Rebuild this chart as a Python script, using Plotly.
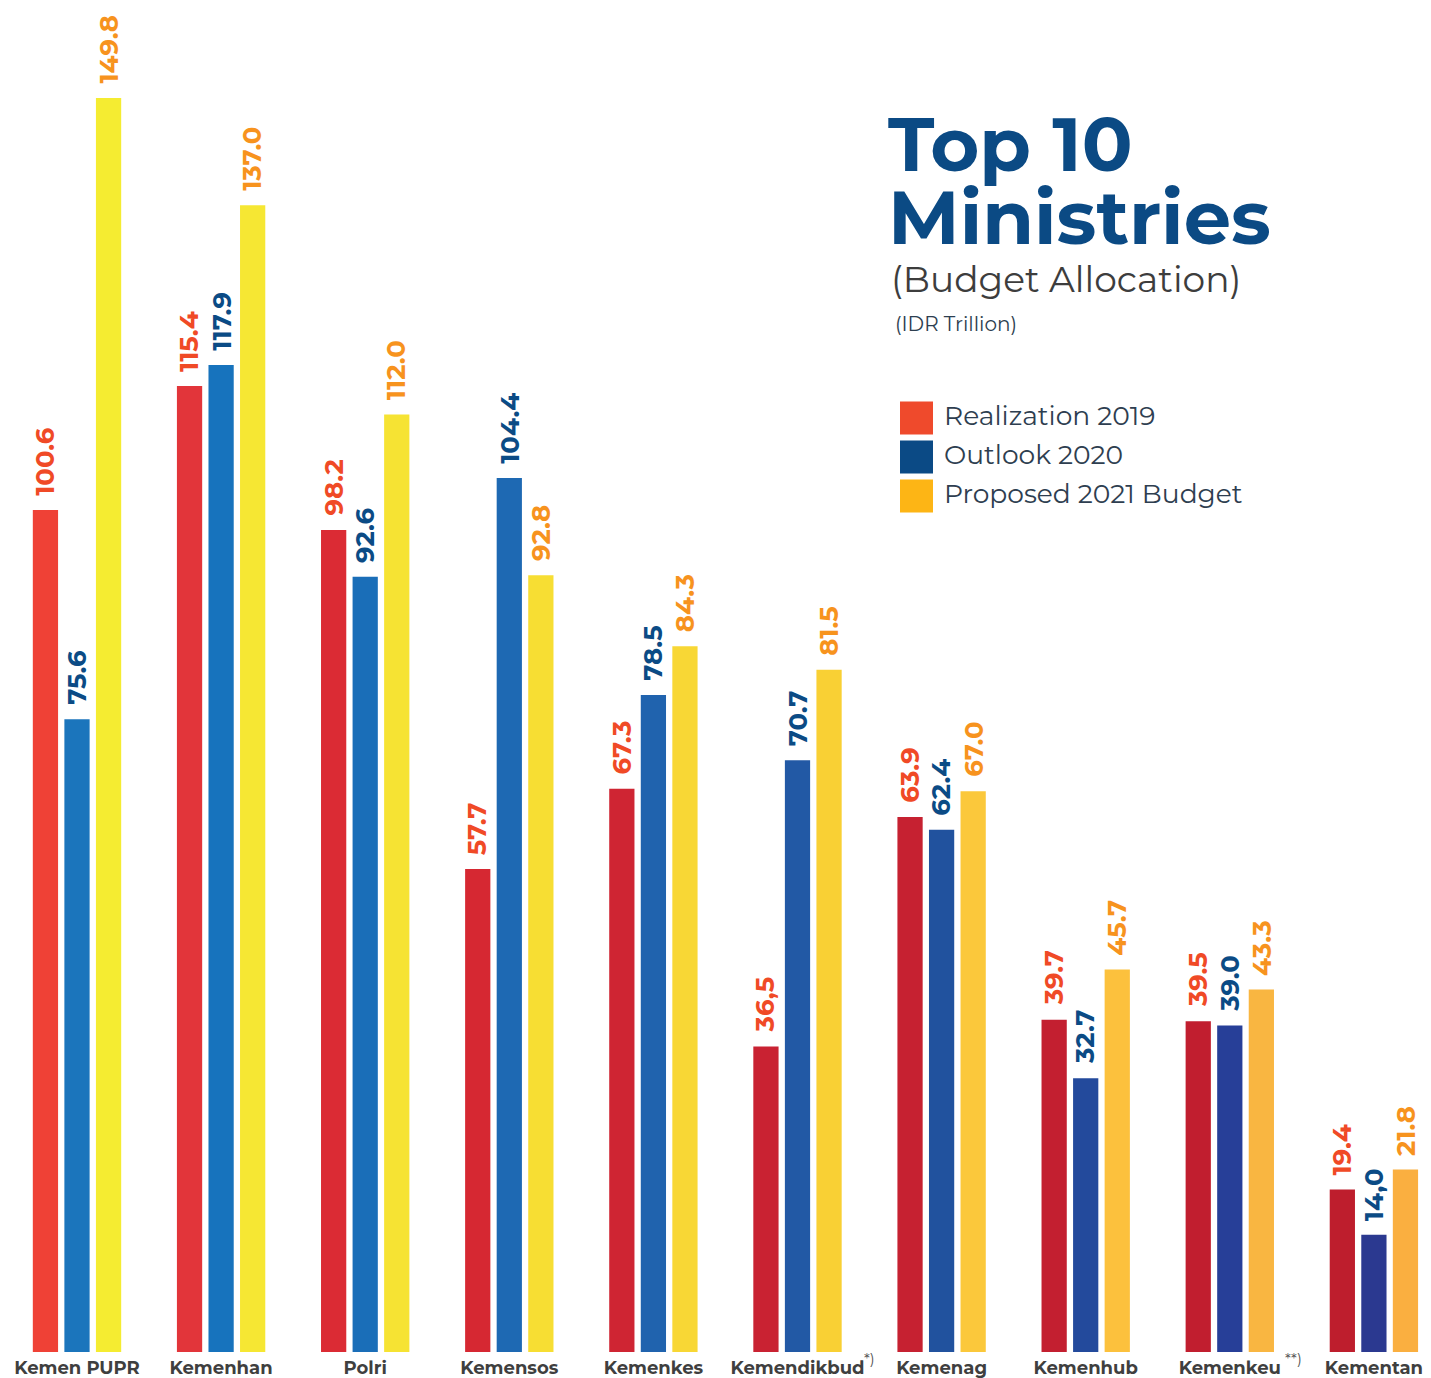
import plotly.graph_objects as go

# ---------------- data ----------------
ministries = ["Kemen PUPR", "Kemenhan", "Polri", "Kemensos", "Kemenkes",
              "Kemendikbud", "Kemenag", "Kemenhub", "Kemenkeu", "Kementan"]
realization_2019 = [100.6, 115.4, 98.2, 57.7, 67.3, 36.5, 63.9, 39.7, 39.5, 19.4]
outlook_2020 = [75.6, 117.9, 92.6, 104.4, 78.5, 70.7, 62.4, 32.7, 39.0, 14.0]
proposed_2021 = [149.8, 137.0, 112.0, 92.8, 84.3, 81.5, 67.0, 45.7, 43.3, 21.8]
labels_2019 = ["100.6", "115.4", "98.2", "57.7", "67.3", "36,5", "63.9", "39.7", "39.5", "19.4"]
labels_2020 = ["75.6", "117.9", "92.6", "104.4", "78.5", "70.7", "62.4", "32.7", "39.0", "14,0"]
labels_2021 = ["149.8", "137.0", "112.0", "92.8", "84.3", "81.5", "67.0", "45.7", "43.3", "21.8"]
series_names = ["Realization 2019", "Outlook 2020", "Proposed 2021 Budget"]
footnotes = {5: "*)", 8: "**)"}

# ---------------- styles ----------------
red_colors = ['#EF4136', '#E2353A', '#DB2B34', '#D62832', '#CF2533',
              '#C92232', '#C62131', '#C31F30', '#C11E2F', '#BE1E2D']
blue_colors = ['#1B75BC', '#1773BD', '#1A6EB8', '#1E69B3', '#2063AE',
               '#2259A5', '#21529E', '#234A9C', '#273F98', '#2B3990']
yellow_colors = ['#F5EC31', '#F6E733', '#F6E333', '#F7DE33', '#F8D735',
                 '#F9D034', '#FBC83B', '#FCC13D', '#F9B641', '#FAAF40']
label_colors = ['#F04A26', '#0B4B85', '#F7931E']
legend_colors = ['#EF4A2C', '#0B4A85', '#FDB515']
footnote_dx = {5: 0.5, 8: 0.44}

OFF = 8                       # page body margin of the browser
W, H = 1431 - OFF, 1378 - OFF  # figure size
BASE = 1352                   # baseline in reference pixels
B = (1378 - BASE)             # bottom margin
PH = H - B                    # plot height in figure px
FONT = "Montserrat, Inter, 'Open Sans', sans-serif"

def pxx(x):
    return (x - OFF) / W

def pxy(y):
    return (BASE - y) / PH

x_idx = list(range(len(ministries)))
slot = 0.219

fig = go.Figure()
series = [
    (realization_2019, labels_2019, red_colors),
    (outlook_2020, labels_2020, blue_colors),
    (proposed_2021, labels_2021, yellow_colors),
]
for k, (vals, labs, cols) in enumerate(series):
    fig.add_trace(go.Bar(
        x=x_idx, y=vals, name=series_names[k],
        marker=dict(color=cols, line=dict(width=0)),
        showlegend=False, hoverinfo="y+name",
    ))
    off = (k - 1) * slot
    for i, (v, t) in enumerate(zip(vals, labs)):
        fig.add_annotation(
            x=i + off, y=v, xref="x", yref="y", text=t, textangle=-90,
            showarrow=False, xanchor="center", yanchor="bottom", yshift=12,
            font=dict(family=FONT, size=26, color=label_colors[k], weight="bold"),
        )

for i, t in footnotes.items():
    fig.add_annotation(
        x=i + footnote_dx[i], y=pxy(1358), xref="x", yref="paper", text=t, showarrow=False,
        xanchor="center", yanchor="middle",
        font=dict(family=FONT, size=15, color="#555555"),
    )

# title block
fig.add_annotation(x=pxx(886), y=pxy(144), xref="paper", yref="paper", text="Top 10",
                   showarrow=False, xanchor="left", yanchor="middle",
                   font=dict(family=FONT, size=75, color="#0B4A84", weight="bold"))
fig.add_annotation(x=pxx(886), y=pxy(217), xref="paper", yref="paper", text="Ministries",
                   showarrow=False, xanchor="left", yanchor="middle",
                   font=dict(family=FONT, size=75, color="#0B4A84", weight="bold"))
fig.add_annotation(x=pxx(889), y=pxy(279), xref="paper", yref="paper", text="(Budget Allocation)",
                   showarrow=False, xanchor="left", yanchor="middle",
                   font=dict(family=FONT, size=36, color="#3D3D3D"))
fig.add_annotation(x=pxx(893), y=pxy(324), xref="paper", yref="paper", text="(IDR Trillion)",
                   showarrow=False, xanchor="left", yanchor="middle",
                   font=dict(family=FONT, size=20, color="#2D3E50"))

# legend
leg_y = [418, 457, 496]
for k, name in enumerate(series_names):
    fig.add_shape(type="rect", xref="paper", yref="paper",
                  x0=pxx(900), x1=pxx(933), y0=pxy(leg_y[k] - 16.5), y1=pxy(leg_y[k] + 16.5),
                  fillcolor=legend_colors[k], line=dict(width=0))
    fig.add_annotation(x=pxx(942), y=pxy(leg_y[k] - 3), xref="paper", yref="paper", text=name,
                       showarrow=False, xanchor="left", yanchor="middle",
                       font=dict(family=FONT, size=26.5, color="#2E3E50"))

unit = 144.1
x0 = -(77 - OFF) / unit
x1 = x0 + W / unit

fig.update_layout(
    width=W, height=H,
    margin=dict(l=0, r=0, t=0, b=B, pad=0),
    paper_bgcolor="white", plot_bgcolor="white",
    barmode="group", bargap=0.343, bargroupgap=0.2,
    xaxis=dict(range=[x0, x1], tickvals=x_idx, ticktext=ministries,
               showgrid=False, zeroline=False, showline=False, ticks="",
               automargin=False, ticklabelstandoff=3,
               tickfont=dict(family=FONT, size=18, color="#3F3F3F", weight="bold")),
    yaxis=dict(range=[0, (BASE - OFF) / 8.371], visible=False, automargin=False),
)

fig.write_html("out.html")
